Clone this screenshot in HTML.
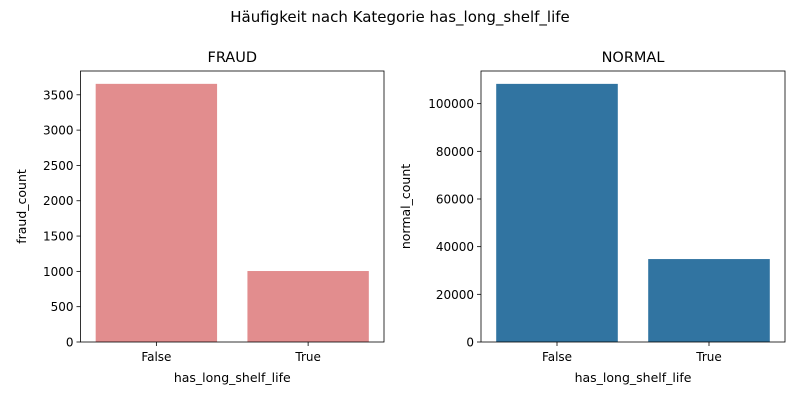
<!DOCTYPE html>
<html><head><meta charset="utf-8"><style>
body{margin:0;background:#fff;font-family:"Liberation Sans","DejaVu Sans",sans-serif;}
svg text{font-family:"DejaVu Sans","Liberation Sans",sans-serif;fill:#000;}
</style></head><body>
<svg id="c" width="800" height="400" xmlns="http://www.w3.org/2000/svg">
<text x="400" y="22" text-anchor="middle" font-size="15">Häufigkeit nach Kategorie has_long_shelf_life</text>
</svg>
<script>
const categories = ["False","True"];
const fraudValues = [3655, 1005];
const normalValues = [108300, 34800];
const fraudTicks = [0,500,1000,1500,2000,2500,3000,3500];
const normalTicks = [0,20000,40000,60000,80000,100000];

const NS="http://www.w3.org/2000/svg";
const svg=document.getElementById('c');
function mk(tag,attrs,parent){const e=document.createElementNS(NS,tag);for(const k in attrs)e.setAttribute(k,attrs[k]);(parent||svg).appendChild(e);return e;}

function panel(x0,x1,y0,y1,vals,ticks,maxV,color,title,ylabel,prefix){
  const g=mk('g',{});
  
  
  const yScale=v=>y1-(v/maxV)*(y1-y0);
  const band=(x1-x0)/categories.length;
  categories.forEach((c,i)=>{
    const cx=x0+band*(i+0.5);
    const r=mk('rect',{x:cx-band*0.4,y:yScale(vals[i]),width:band*0.8,height:y1-yScale(vals[i]),fill:color},g);
    
    
    mk('line',{x1:cx,x2:cx,y1:y1,y2:y1+4,stroke:'#000','stroke-width':0.8},g);
    const t=mk('text',{x:cx,y:y1+19,'text-anchor':'middle','font-size':12},g);
    t.textContent=c;
    
    
  });
  ticks.forEach(v=>{
    const y=yScale(v);
    mk('line',{x1:x0-4,x2:x0,y1:y,y2:y,stroke:'#000','stroke-width':0.8},g);
    const t=mk('text',{x:x0-7,y:y+4.5,'text-anchor':'end','font-size':12},g);
    t.textContent=v;
    
    
  });
  const fr=mk('rect',{x:x0,y:y0,width:x1-x0,height:y1-y0,fill:'none',stroke:'#000','stroke-width':0.8},g);
  
  
  const tt=mk('text',{x:(x0+x1)/2,y:y0-9,'text-anchor':'middle','font-size':14.5},g);
  tt.textContent=title;
  
  
  const xl=mk('text',{x:(x0+x1)/2,y:y1+40,'text-anchor':'middle','font-size':12.5},g);
  xl.textContent='has_long_shelf_life';
  
  
  const yx=prefix==='fraud'?26:410;
  const yl=mk('text',{x:yx,y:(y0+y1)/2,'text-anchor':'middle','font-size':12.5,transform:`rotate(-90 ${yx} ${(y0+y1)/2})`},g);
  yl.textContent=ylabel;
  
  
}
panel(80.5,384,71,342,fraudValues,fraudTicks,3837,'#e28d8e','FRAUD','fraud_count','fraud');
panel(481,785,71,342,normalValues,normalTicks,113700,'#3174a1','NORMAL','normal_count','normal');
</script>
</body></html>
